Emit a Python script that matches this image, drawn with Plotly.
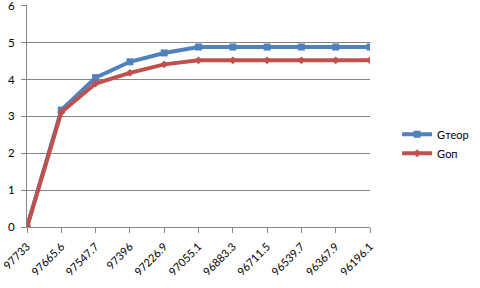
import plotly.graph_objects as go

categories = ["97733", "97665.6", "97547.7", "97396", "97226.9", "97055.1",
              "96883.3", "96711.5", "96539.7", "96367.9", "96196.1"]
g_teor = [0, 3.17, 4.05, 4.48, 4.72, 4.88, 4.88, 4.88, 4.88, 4.88, 4.88]
g_op = [0, 3.11, 3.89, 4.18, 4.41, 4.52, 4.52, 4.52, 4.52, 4.52, 4.52]
series_names = ["Gтеор", "Gоп"]
y_ticks = [0, 1, 2, 3, 4, 5, 6]

xs = list(range(len(categories)))
font = "Lato, 'Liberation Sans', sans-serif"

fig = go.Figure()
fig.add_trace(go.Scatter(x=xs, y=g_teor, name=series_names[0], mode="lines+markers",
                         line=dict(color="#4F81BD", width=4),
                         marker=dict(symbol="square", size=7, color="#4F81BD")))
fig.add_trace(go.Scatter(x=xs, y=g_op, name=series_names[1], mode="lines+markers",
                         line=dict(color="#C0504D", width=4),
                         marker=dict(symbol="diamond", size=6, color="#C0504D")))

fig.update_layout(
    template="none",
    width=480, height=288,
    margin=dict(l=27, r=110, t=5, b=61, autoexpand=False),
    paper_bgcolor="white", plot_bgcolor="white",
    font=dict(family=font, size=11, color="#000000"),
    showlegend=True,
    legend=dict(x=1.079, y=0.375, xanchor="left", yanchor="middle",
                font=dict(size=11), tracegroupgap=0, itemwidth=30),
)
fig.update_xaxes(
    range=[0, 10], tickmode="array", tickvals=xs, ticktext=categories,
    tickangle=-45, ticks="outside", ticklen=5, tickcolor="#868686",
    ticklabelstandoff=3, automargin=False,
    showline=True, linecolor="#868686", linewidth=1,
    showgrid=False, zeroline=False, tickfont=dict(size=11),
)
fig.update_yaxes(
    range=[0, 6.02], tickmode="array", tickvals=y_ticks,
    showgrid=True, gridcolor="#868686", gridwidth=1,
    showline=True, linecolor="#868686", linewidth=1, zeroline=False,
    ticks="outside", ticklen=5, tickcolor="#868686", automargin=False,
    ticklabelstandoff=4, tickfont=dict(size=11.5), ticklabeloverflow="allow",
)

fig.write_html("out.html")
